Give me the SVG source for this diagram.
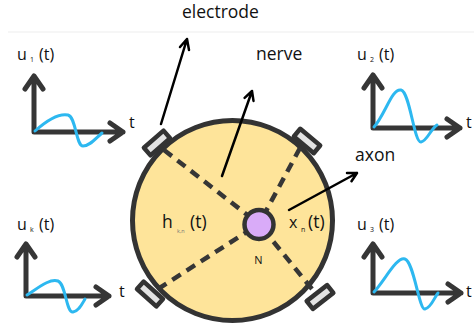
<svg xmlns="http://www.w3.org/2000/svg" width="474" height="331" viewBox="0 0 474 331">
<style>
text{font-family:"Open Sans","Liberation Sans",sans-serif;fill:#111}
.lbl{font-size:17.5px}
.glab{font-size:16px}
.sub{font-size:7px}
.axis{fill:none;stroke:#363636;stroke-width:5;stroke-linecap:round;stroke-linejoin:round}
.sig{fill:none;stroke:#2db8f0;stroke-width:3;stroke-linecap:round;stroke-linejoin:round}
.ptr{fill:none;stroke:#000;stroke-width:2.5;stroke-linecap:round;stroke-linejoin:round}
.dash{fill:none;stroke:#363636;stroke-width:4.5;stroke-dasharray:10 7}
.elec{fill:#e3e3e3;stroke:#333;stroke-width:4.5;stroke-linejoin:round}
</style>
<rect width="474" height="331" fill="#fff"/>
<line x1="8" y1="32" x2="474" y2="32" stroke="#ededed" stroke-width="1"/>

<g id="nerve">
<circle cx="232.5" cy="220.5" r="100" fill="#fee49a" stroke="#333" stroke-width="5"/>
</g>

<g id="connectors">
<line class="dash" x1="164" y1="150" x2="259" y2="224"/>
<line class="dash" x1="300" y1="148" x2="259" y2="224"/>
<line class="dash" x1="158" y1="289" x2="259" y2="224"/>
<line class="dash" x1="312" y1="289" x2="259" y2="224"/>
<path class="ptr" d="M161,124 L187,39 M180,47 L187,39 L189,50"/>
<path class="ptr" d="M222,176 L252,91 M244.6,97.8 L252,91 L253.5,100.9"/>
<path class="ptr" d="M289,210 L357,173 M347,173.1 L357,173 L351.5,181.3"/>
</g>

<g id="electrode-tl"><rect class="elec" x="-13" y="-5" width="26" height="10" transform="translate(157,143) rotate(-41)"/></g>
<g id="electrode-tr"><rect class="elec" x="-13" y="-5" width="26" height="10" transform="translate(307,141) rotate(40)"/></g>
<g id="electrode-bl"><rect class="elec" x="-13" y="-5" width="26" height="10" transform="translate(150,294) rotate(42)"/></g>
<g id="electrode-br"><rect class="elec" x="-13" y="-5" width="26" height="10" transform="translate(320,297) rotate(-38)"/></g>

<g id="node-N">
<circle cx="259" cy="224.5" r="14.5" fill="#d9abf8" stroke="#333" stroke-width="4.5"/>
<text x="258.5" y="264" font-size="11" text-anchor="middle">N</text>
</g>

<g id="label-h">
<text class="lbl" x="162" y="228">h</text>
<text x="177" y="233" font-size="5.5" style="fill:#777">k,n</text>
<text class="lbl" x="190" y="228">(t)</text>
</g>
<g id="label-x">
<text class="glab" x="289" y="228">x</text>
<text class="sub" x="301" y="232">n</text>
<text class="lbl" x="308" y="228">(t)</text>
</g>

<g id="label-electrode"><text class="lbl" x="182" y="18">electrode</text></g>
<g id="label-nerve"><text class="lbl" x="256" y="60">nerve</text></g>
<g id="label-axon"><text class="lbl" x="355" y="161">axon</text></g>

<g id="graph-u1">
<text class="glab" x="17" y="60">u</text><text class="sub" x="30" y="62">1</text><text class="glab" x="39" y="60">(t)</text>
<path class="axis" d="M34,76 L34,132 L123,132 M25,89 L34,76 L43,89 M110,123 L123,132 L110,141"/>
<path class="sig" d="M35,131 C45,122 58,113 68,115 C76,117 76,146 83,146 C90,146 96,138 102,133"/>
<text class="glab" x="129" y="128">t</text>
</g>

<g id="graph-u2">
<text class="glab" x="357" y="60">u</text><text class="sub" x="370" y="62">2</text><text class="glab" x="379" y="60">(t)</text>
<path class="axis" d="M373,75 L373,128 L460,128 M364,88 L373,75 L382,88 M447,119 L460,128 L447,137"/>
<path class="sig" d="M374,127 C385,115 392,88 401,90 C410,92 414,143 421,142 C427,141 430,130 437,125"/>
<text class="glab" x="466" y="128">t</text>
</g>

<g id="graph-uk">
<text class="glab" x="17" y="230">u</text><text class="sub" x="30" y="232">k</text><text class="glab" x="39" y="230">(t)</text>
<path class="axis" d="M26,244 L26,296 L109,296 M17,257 L26,244 L35,257 M96,287 L109,296 L96,305"/>
<path class="sig" d="M27,295 C38,288 50,278 58,281 C66,284 66,313 73,312 C79,311 82,304 85,299"/>
<text class="glab" x="119" y="297">t</text>
</g>

<g id="graph-u3">
<text class="glab" x="357" y="230">u</text><text class="sub" x="370" y="232">3</text><text class="glab" x="379" y="230">(t)</text>
<path class="axis" d="M373,244 L373,293 L461,293 M364,257 L373,244 L382,257 M448,284 L461,293 L448,302"/>
<path class="sig" d="M374,292 C385,280 397,256 405,259 C414,262 419,310 425,309 C431,308 434,298 438,293"/>
<text class="glab" x="466" y="297">t</text>
</g>
</svg>
